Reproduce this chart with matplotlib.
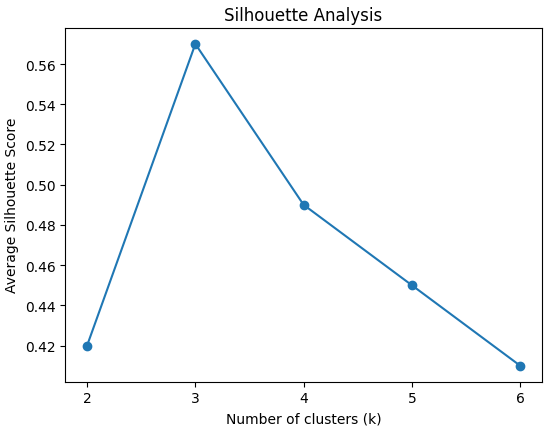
import matplotlib
matplotlib.use('Agg')
import matplotlib.pyplot as plt

k_values = [2, 3, 4, 5, 6]
silhouette_scores = [0.42, 0.57, 0.49, 0.45, 0.41]

fig, ax = plt.subplots(figsize=(5.5, 4.31), dpi=100)
ax.plot(k_values, silhouette_scores, marker='o')
ax.set_xticks(k_values)
ax.set_xlabel('Number of clusters (k)')
ax.set_ylabel('Average Silhouette Score')
ax.set_title('Silhouette Analysis')

fig.subplots_adjust(left=0.119, right=0.985, top=0.933, bottom=0.112)
fig.savefig('out.png', dpi=100)
